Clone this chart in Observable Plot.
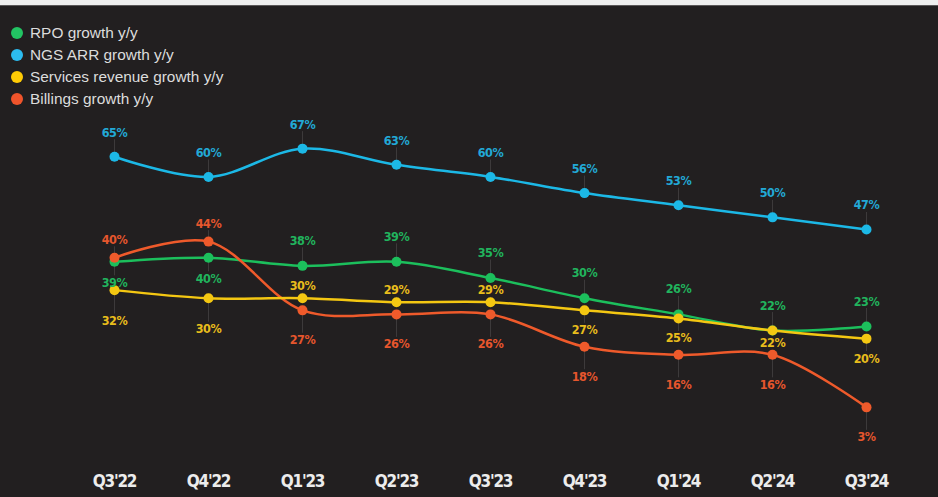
<!DOCTYPE html>
<html><head><meta charset="utf-8">
<script src="https://cdn.jsdelivr.net/npm/d3@7"></script>
<script src="https://cdn.jsdelivr.net/npm/@observablehq/plot@0.6"></script>
<style>
html,body{margin:0;padding:0;background:#221f20;}
#wrap{position:relative;width:938px;height:497px;overflow:hidden;background:#221f20;}
#strip{height:5px;background:#efefef;border-bottom:1px solid #5b5859;}
#chart{line-height:0;}
#chart svg text{letter-spacing:-0.5px;}
#chart svg g[aria-label^="x-axis"] text{letter-spacing:-1.2px;}
#legend{position:absolute;left:11px;top:22px;font-family:"Liberation Sans",Arial,sans-serif;font-size:15.4px;color:#dcdcdc;}
.row{display:flex;align-items:center;height:22px;white-space:nowrap;}
.sw{width:12px;height:12px;border-radius:50%;margin-right:7px;flex:none;}
</style></head><body>
<div id="wrap"><div id="strip"></div><div id="chart"></div><div id="legend"></div></div>
<script>
const quarters = ["Q3'22","Q4'22","Q1'23","Q2'23","Q3'23","Q4'23","Q1'24","Q2'24","Q3'24"];
const seriesNames = ["RPO growth y/y","NGS ARR growth y/y","Services revenue growth y/y","Billings growth y/y"];
const rpo      = [39,40,38,39,35,30,26,22,23];
const ngsArr   = [65,60,67,63,60,56,53,50,47];
const services = [32,30,30,29,29,27,25,22,20];
const billings = [40,44,27,26,26,18,16,16,3];
// label side per point: a = above, b = below, bn = below (near), bf = below (far)
const rpoSide      = ["b","b","a","a","a","a","a","a","a"];
const ngsSide      = ["a","a","a","a","a","a","a","a","a"];
const servicesSide = ["bf","bf","a","a","a","b","b","bn","b"];
const billingsSide = ["a","a","b","b","b","b","b","b","b"];

const series = [
  {name: seriesNames[1], values: ngsArr, side: ngsSide, color: "#1cb8e6", label: "#22a9d6", off: {a: -24}},
  {name: seriesNames[0], values: rpo, side: rpoSide, color: "#1cbf5c", label: "#21b45d", off: {a: -25, b: 21}},
  {name: seriesNames[3], values: billings, side: billingsSide, color: "#ef5a2b", label: "#e6562d", off: {a: -18, b: 30}},
  {name: seriesNames[2], values: services, side: servicesSide, color: "#f4c712", label: "#e8bd1c", off: {a: -12, b: 20, bn: 12, bf: 31}}
];

const marks = [];
for (const s of series) {
  const rows = s.values.map((v, i) => ({q: quarters[i], v, side: s.side[i]}));
  for (const side of Object.keys(s.off)) {
    const sub = rows.filter(d => d.side === side);
    const o = s.off[side];
    marks.push(Plot.ruleX(sub, {x: "q", y1: "v", y2: "v", stroke: "#3d3a3b", strokeWidth: 1,
      insetTop: o < 0 ? o + 7 : 0, insetBottom: o > 0 ? -(o - 7) : 0}));
  }
}
for (const s of series) {
  const rows = s.values.map((v, i) => ({q: quarters[i], v, side: s.side[i]}));
  marks.push(Plot.line(rows, {x: "q", y: "v", stroke: s.color, strokeWidth: 2.5, curve: "catmull-rom"}));
  marks.push(Plot.dot(rows, {x: "q", y: "v", r: 5, fill: s.color}));
}
for (const s of series) {
  const rows = s.values.map((v, i) => ({q: quarters[i], v, side: s.side[i]}));
  for (const side of Object.keys(s.off)) {
    const sub = rows.filter(d => d.side === side);
    marks.push(Plot.text(sub, {x: "q", y: "v", text: d => d.v + "%", dy: s.off[side], fill: s.label,
      fontSize: 12.5, fontWeight: "bold", fontFamily: "'Liberation Sans Narrow','DejaVu Sans Condensed',sans-serif"}));
  }
}

const chart = Plot.plot({
  width: 938, height: 491,
  marginLeft: 111, marginRight: 70, marginTop: 130, marginBottom: 78,
  style: {background: "#221f20", color: "#ececec", fontFamily: "'Liberation Sans Narrow','DejaVu Sans Condensed',sans-serif", fontSize: "17px", fontWeight: "bold"},
  x: {type: "point", domain: quarters, padding: 0, tickSize: 0, tickPadding: 55, label: null},
  y: {domain: [0, 70], axis: null},
  marks
});
document.getElementById("chart").appendChild(chart);

const legend = document.getElementById("legend");
const legendColors = {"RPO growth y/y": "#22c463", "NGS ARR growth y/y": "#2cbcf0", "Services revenue growth y/y": "#ffcb05", "Billings growth y/y": "#f0542b"};
for (const n of seriesNames) {
  const row = document.createElement("div");
  row.className = "row";
  const sw = document.createElement("span");
  sw.className = "sw";
  sw.style.background = legendColors[n];
  const t = document.createElement("span");
  t.textContent = n;
  row.appendChild(sw); row.appendChild(t);
  legend.appendChild(row);
}
</script>
</body></html>
